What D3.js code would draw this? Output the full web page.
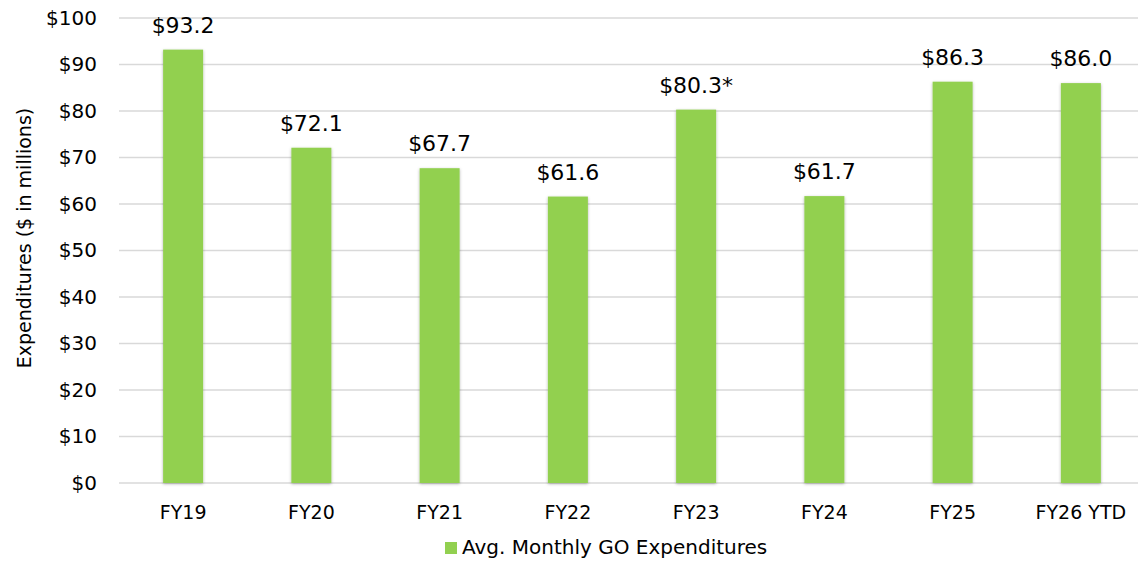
<!doctype html>
<html lang="en">
<head>
    <meta charset="utf-8">
    <title>Avg. Monthly GO Expenditures</title>
    <style type="text/css">
        html, body {
            margin: 0;
            width: 100%;
            height: 100%;
            background-color: #fff;
            overflow: hidden;
        }
        svg text {
            font-family: "DejaVu Sans", sans-serif;
            fill: #000;
        }
    </style>
</head>
<body>
    <svg id="chart" width="1138" height="561"></svg>

    <script src="https://cdn.jsdelivr.net/npm/d3@7"></script>
    <script>
        const categories = ["FY19", "FY20", "FY21", "FY22", "FY23", "FY24", "FY25", "FY26 YTD"];
        const values = [93.2, 72.1, 67.7, 61.6, 80.3, 61.7, 86.3, 86.0];
        const valueLabels = ["$93.2", "$72.1", "$67.7", "$61.6", "$80.3*", "$61.7", "$86.3", "$86.0"];
        const yTicks = [0, 10, 20, 30, 40, 50, 60, 70, 80, 90, 100];
        const seriesName = "Avg. Monthly GO Expenditures";
        const yTitle = "Expenditures ($ in millions)";

        const svg = d3.select("#chart");
        const plotLeft = 119, plotRight = 1145, plotTop = 18, plotBottom = 483;
        const font = "'DejaVu Sans', sans-serif";

        const x = d3.scaleBand()
            .domain(categories)
            .range([plotLeft, plotRight]);

        const y = d3.scaleLinear()
            .domain([0, 100])
            .range([plotBottom, plotTop]);

        // shadow for bars
        const defs = svg.append("defs");
        const f = defs.append("filter").attr("id", "shadow")
            .attr("x", "-30%").attr("y", "-10%").attr("width", "160%").attr("height", "120%");
        f.append("feDropShadow")
            .attr("dx", 0).attr("dy", 1)
            .attr("stdDeviation", 1.5)
            .attr("flood-color", "#000")
            .attr("flood-opacity", 0.3);

        // gridlines
        svg.append("g")
            .selectAll("line")
            .data(yTicks)
            .enter().append("line")
            .attr("x1", plotLeft)
            .attr("x2", 1138)
            .attr("y1", d => y(d))
            .attr("y2", d => y(d))
            .attr("stroke", "#d9d9d9")
            .attr("stroke-width", 1.5);

        // y axis labels
        const yAxis = svg.append("g")
            .attr("transform", `translate(${plotLeft - 22},0)`)
            .call(d3.axisLeft(y).tickValues(yTicks).tickFormat(d => "$" + d).tickSize(0));
        yAxis.select(".domain").remove();
        yAxis.selectAll("text")
            .attr("x", 0)
            .style("font-size", "20px")
            .style("font-family", font);

        // bars
        const barW = 40;
        svg.append("g")
            .selectAll("rect")
            .data(values)
            .enter().append("rect")
            .attr("x", (d, i) => x(categories[i]) + x.bandwidth() / 2 - barW / 2)
            .attr("y", d => y(d))
            .attr("width", barW)
            .attr("height", d => y(0) - y(d))
            .attr("fill", "#92d050")
            .attr("filter", "url(#shadow)");

        // value labels
        svg.append("g")
            .selectAll("text")
            .data(values)
            .enter().append("text")
            .attr("x", (d, i) => x(categories[i]) + x.bandwidth() / 2)
            .attr("y", d => y(d) - 17)
            .attr("text-anchor", "middle")
            .style("font-size", "22px")
            .text((d, i) => valueLabels[i]);

        // x axis labels
        const xAxis = svg.append("g")
            .attr("transform", `translate(0,${plotBottom})`)
            .call(d3.axisBottom(x).tickSize(0));
        xAxis.select(".domain").remove();
        xAxis.selectAll("text")
            .attr("y", 0)
            .attr("dy", "36px")
            .style("font-size", "19px")
            .style("font-family", font);

        // y title
        svg.append("text")
            .attr("transform", "translate(31,238) rotate(-90)")
            .attr("text-anchor", "middle")
            .style("font-size", "19px")
            .text(yTitle);

        // legend
        const legend = svg.append("g").attr("transform", "translate(445,542)");
        legend.append("rect")
            .attr("width", 12)
            .attr("height", 12)
            .attr("fill", "#92d050");
        legend.append("text")
            .attr("x", 17)
            .attr("y", 12)
            .style("font-size", "20px")
            .text(seriesName);
    </script>
</body>
</html>
